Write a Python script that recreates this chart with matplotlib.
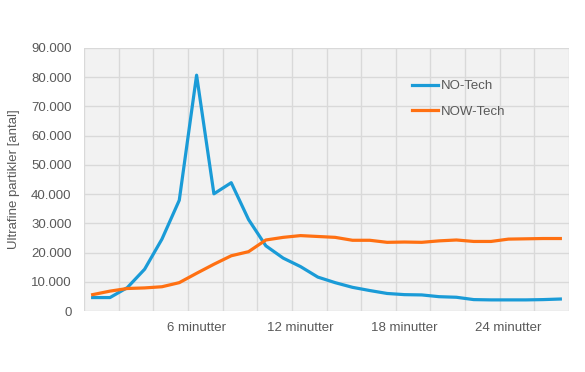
import matplotlib
matplotlib.use("Agg")
import matplotlib.pyplot as plt
import numpy as np

plt.rcParams['font.family'] = ['Liberation Sans', 'DejaVu Sans']

categories = list(range(28))
tick_positions = [6, 12, 18, 24]
tick_labels = ["6 minutter", "12 minutter", "18 minutter", "24 minutter"]
no_tech = [4600, 4600, 8000, 14300, 24600, 37900, 80700, 40100, 43900, 31300,
           22300, 18100, 15200, 11600, 9700, 8100, 7000, 6000, 5600, 5500,
           4900, 4700, 3900, 3800, 3800, 3800, 3900, 4100]
now_tech = [5600, 6800, 7700, 7900, 8300, 9700, 12900, 16000, 18900, 20300,
            24300, 25200, 25800, 25500, 25200, 24200, 24200, 23500, 23600, 23500,
            24000, 24300, 23800, 23800, 24600, 24700, 24800, 24800]
yticks = list(range(0, 90001, 10000))
ytick_labels = ["0" if v == 0 else f"{v//1000}.000" for v in yticks]

fig = plt.figure(figsize=(5.85, 3.72), dpi=100)
ax = fig.add_axes([84/585, 1-311/372, (569-84)/585, (311-48)/372])
ax.set_facecolor('#f2f2f2')

ax.plot(categories, no_tech, color='#1a9bd7', lw=2.3, label='NO-Tech', solid_joinstyle='round')
ax.plot(categories, now_tech, color='#ff7012', lw=2.3, label='NOW-Tech', solid_joinstyle='round')

ax.set_xlim(-0.5, 27.5)
ax.set_ylim(0, 90000)
ax.set_yticks(yticks)
ax.set_yticklabels(ytick_labels)
ax.set_xticks(np.arange(-0.5, 28, 2), minor=True)
ax.set_xticks(tick_positions)
ax.set_xticklabels(tick_labels)
ax.grid(True, which='minor', axis='x', color='#d9d9d9', lw=1)
ax.grid(True, which='major', axis='y', color='#d9d9d9', lw=1)
ax.set_axisbelow(True)
for s in ax.spines.values():
    s.set_visible(False)
ax.tick_params(axis='both', which='both', length=0, colors='#595959', labelsize=9.5)
ax.tick_params(axis='y', pad=9)
ax.tick_params(axis='x', pad=8)

ax.set_ylabel('Ultrafine partikler [antal]', color='#595959', fontsize=9.5)
ax.yaxis.set_label_coords(-(84-20)/485, 0.5)

leg = ax.legend(loc='upper left', bbox_to_anchor=(412/585, 1-80/372), bbox_transform=fig.transFigure,
                frameon=False, fontsize=9.5, handlelength=2.0, handletextpad=0.2,
                labelspacing=1.0, borderpad=0, borderaxespad=0)
for t in leg.get_texts():
    t.set_color('#595959')

fig.savefig('out.png', dpi=100, facecolor='white')
